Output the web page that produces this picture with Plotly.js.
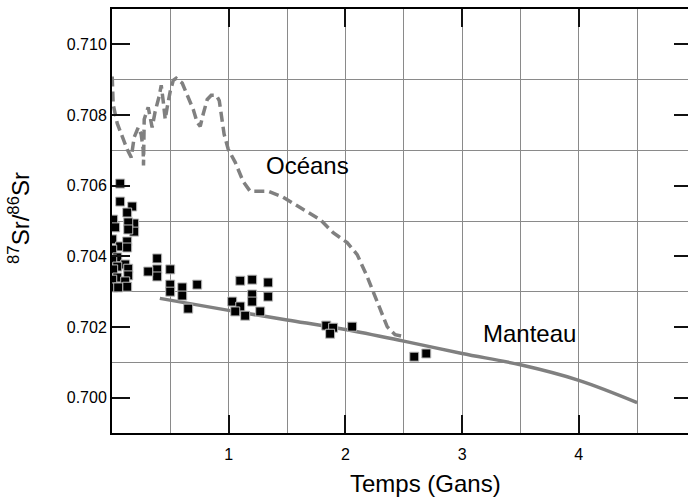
<!DOCTYPE html>
<html>
<head>
<meta charset="utf-8">
<script src="https://cdn.plot.ly/plotly-3.0.1.min.js"></script>
<style>
html,body{margin:0;padding:0;overflow:hidden;background:#fff;}
#chart{width:700px;height:497px;}
</style>
</head>
<body>
<div id="chart"></div>
<script>
// Ocean Sr isotope curve (Temps en Gans, 87Sr/86Sr)
const oceanT = [0.002,0.010,0.045,0.087,0.130,0.165,0.190,0.225,0.250,0.267,0.270,0.276,0.310,0.344,0.370,0.404,0.422,0.439,0.456,0.473,0.499,0.525,0.550,0.602,0.645,0.696,0.730,0.756,0.781,0.816,0.850,0.893,0.919,0.944,0.961,0.996,1.056,1.124,1.184,1.338,1.458,1.612,1.784,1.895,2.015,2.101,2.186,2.272,2.358,2.426,2.495];
const oceanSr = [0.70909,0.70830,0.70776,0.70737,0.70703,0.70680,0.70737,0.70765,0.70745,0.70703,0.70657,0.70788,0.70822,0.70765,0.70810,0.70853,0.70884,0.70839,0.70788,0.70822,0.70867,0.70898,0.70904,0.70890,0.70858,0.70816,0.70779,0.70768,0.70802,0.70844,0.70856,0.70856,0.70841,0.70788,0.70745,0.70703,0.70666,0.70612,0.70584,0.70584,0.70569,0.70538,0.70504,0.70467,0.70439,0.70405,0.70343,0.70272,0.70201,0.70178,0.70173];

// Mantle evolution curve
const mantleT = [0.41,1.0,1.5,2.0,2.5,3.0,3.5,4.0,4.5];
const mantleSr = [0.70281,0.70247,0.70220,0.70193,0.70160,0.70125,0.70093,0.70049,0.69986];

// Rock samples
const sampleT = [0.070,0.070,0.173,0.130,0.010,0.027,0.190,0.190,0.139,0.139,0.002,0.070,0.130,0.130,0.002,0.045,0.002,0.113,0.045,0.139,0.010,0.045,0.139,0.002,0.113,0.010,0.130,0.053,0.387,0.387,0.387,0.310,0.499,0.499,0.499,0.602,0.602,0.730,0.653,1.099,1.201,1.338,1.201,1.338,1.201,1.030,1.099,1.056,1.141,1.270,1.836,1.895,1.869,2.058,2.590,2.693];
const sampleSr = [0.70606,0.70555,0.70541,0.70524,0.70504,0.70482,0.70493,0.70470,0.70496,0.70476,0.70448,0.70428,0.70442,0.70425,0.70419,0.70397,0.70391,0.70377,0.70371,0.70365,0.70363,0.70340,0.70346,0.70334,0.70329,0.70312,0.70314,0.70312,0.70394,0.70363,0.70343,0.70357,0.70363,0.70320,0.70300,0.70312,0.70289,0.70320,0.70252,0.70331,0.70334,0.70326,0.70292,0.70286,0.70272,0.70272,0.70258,0.70244,0.70232,0.70244,0.70204,0.70198,0.70181,0.70201,0.70116,0.70125];

const xTicks = [1,2,3,4];
const xGrid = [0.5,1,1.5,2,2.5,3,3.5,4,4.5];
const yTicks = [0.700,0.702,0.704,0.706,0.708,0.710];
const yGrid = [0.701,0.703,0.705,0.707,0.709];

const FONT = "Liberation Sans";
const TICKC = 'rgb(17,17,17)';

const traces = [
  {x: mantleT, y: mantleSr, type:'scatter', mode:'lines',
   line:{color:'#808080', width:3.5, shape:'spline'}, hoverinfo:'skip'},
  {x: oceanT, y: oceanSr, type:'scatter', mode:'lines',
   line:{color:'#808080', width:3.5, dash:'10px,5px'}, hoverinfo:'skip'},
  {x: sampleT, y: sampleSr, type:'scatter', mode:'markers',
   marker:{symbol:'square', size:9, color:'#000', line:{color:'#bbbbbb', width:1}}}
];

const layout = {
  width:700, height:497,
  margin:{l:112, r:8, t:9, b:64},
  paper_bgcolor:'#fff', plot_bgcolor:'#fff',
  showlegend:false,
  font:{family:FONT, color:'#000', size:16},
  xaxis2:{
    overlaying:'x', range:[0,4.97], tickmode:'array', tickvals:xGrid,
    showticklabels:false, ticks:'', showline:false, zeroline:false,
    showgrid:true, gridcolor:'#8a8a8a', gridwidth:1
  },
  yaxis2:{
    overlaying:'y', range:[0.699,0.711], tickmode:'array', tickvals:yGrid,
    showticklabels:false, ticks:'', showline:false, zeroline:false,
    showgrid:true, gridcolor:'#8a8a8a', gridwidth:1
  },
  xaxis:{
    range:[0,4.97], tickmode:'array', tickvals:xTicks,
    ticks:'inside', ticklen:18, tickwidth:2, tickcolor:TICKC,
    showline:true, linewidth:2, linecolor:'#000', mirror:'ticks',
    showgrid:false, zeroline:false, ticklabelstandoff:6,
    tickfont:{size:16, family:FONT, color:'#000'}
  },
  yaxis:{
    range:[0.699,0.711], tickmode:'array', tickvals:yTicks, ticktext:yTicks.map(v=>v.toFixed(3)),
    ticks:'inside', ticklen:18, tickwidth:2, tickcolor:TICKC,
    showline:true, linewidth:2, linecolor:'#000', mirror:'ticks',
    showgrid:false, zeroline:false,
    tickfont:{size:16, family:FONT, color:'#000'}
  },
  annotations:[
    {xref:'paper', yref:'paper', x:(19-112)/580, y:(433-218)/424, xanchor:'center', yanchor:'middle',
     textangle:-90, showarrow:false, text:'<sup>87</sup>Sr/<sup>86</sup>Sr', font:{size:24, family:FONT, color:'#000'}},
    {xref:'paper', yref:'paper', x:(425-112)/580, y:(433-483)/424, xanchor:'center', yanchor:'middle',
     showarrow:false, text:'Temps (Gans)', font:{size:24, family:FONT, color:'#000'}},
    {xref:'paper', yref:'paper', x:(307-112)/580, y:(433-166)/424, xanchor:'center', yanchor:'middle',
     showarrow:false, text:'Océans', font:{size:24, family:FONT, color:'#000'}},
    {xref:'paper', yref:'paper', x:(529-112)/580, y:(433-333.5)/424, xanchor:'center', yanchor:'middle',
     showarrow:false, text:'Manteau', font:{size:24, family:FONT, color:'#000'}}
  ]
};

traces.unshift({x:[0], y:[0.699], xaxis:'x2', yaxis:'y2', type:'scatter', mode:'markers',
  marker:{opacity:0}, hoverinfo:'skip', showlegend:false});

Plotly.newPlot('chart', traces, layout, {displayModeBar:false});
</script>
</body>
</html>
